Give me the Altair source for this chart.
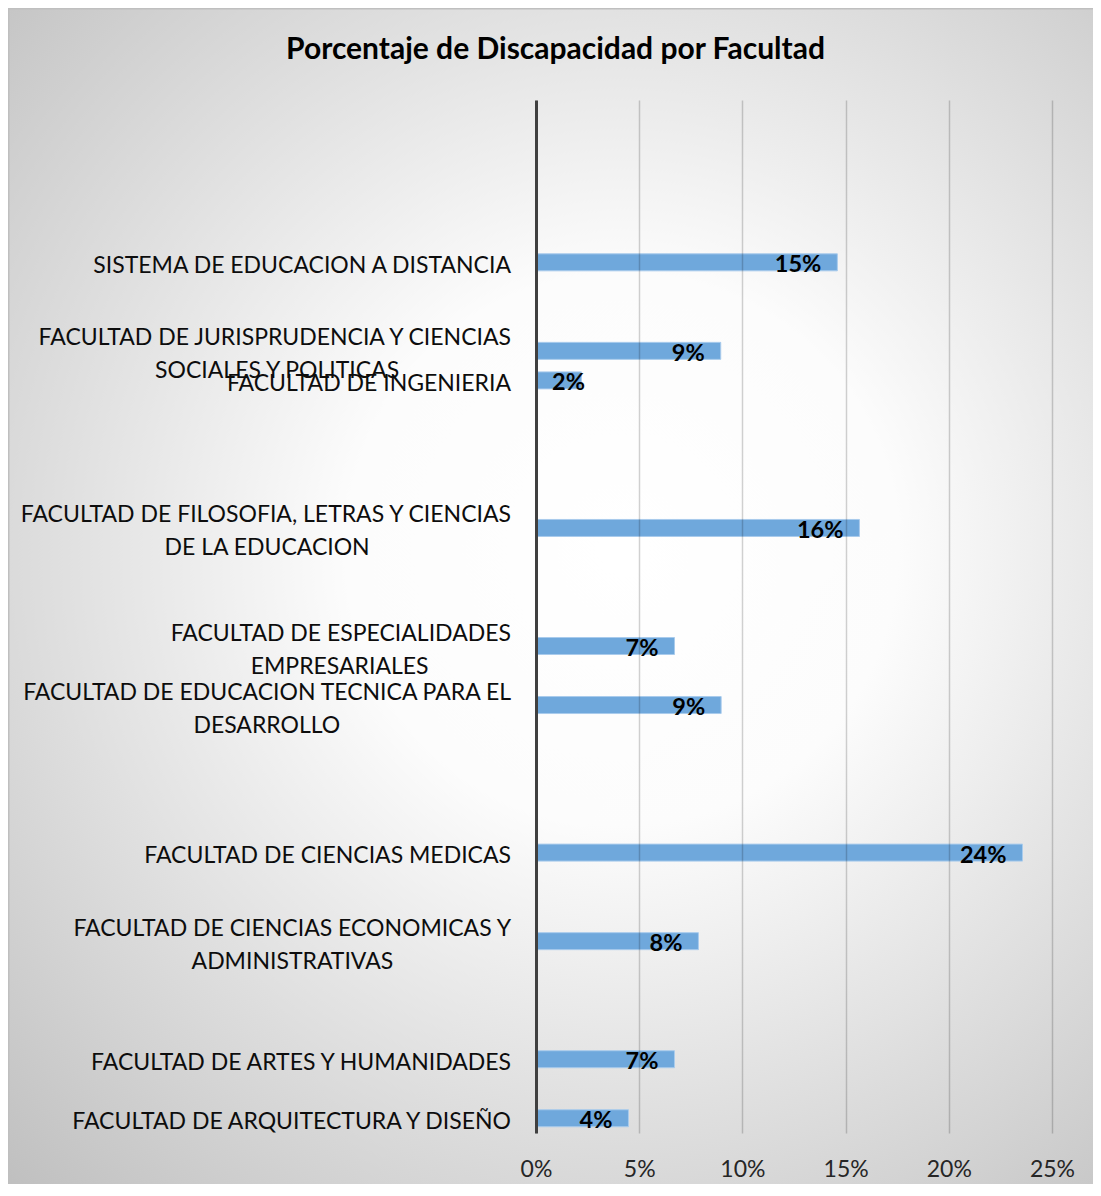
import altair as alt
import pandas as pd

# ---- data -----------------------------------------------------------------
categories = [
    "SISTEMA DE EDUCACION A DISTANCIA",
    "FACULTAD DE JURISPRUDENCIA Y CIENCIAS|SOCIALES Y POLITICAS",
    "FACULTAD DE INGENIERIA",
    "FACULTAD DE FILOSOFIA, LETRAS Y CIENCIAS|DE LA EDUCACION",
    "FACULTAD DE ESPECIALIDADES|EMPRESARIALES",
    "FACULTAD DE EDUCACION TECNICA PARA EL|DESARROLLO",
    "FACULTAD DE CIENCIAS MEDICAS",
    "FACULTAD DE CIENCIAS ECONOMICAS Y|ADMINISTRATIVAS",
    "FACULTAD DE ARTES Y HUMANIDADES",
    "FACULTAD DE ARQUITECTURA Y DISEÑO",
]
values = [0.146, 0.0895, 0.022, 0.1567, 0.0671, 0.0897, 0.2357, 0.0787, 0.0671, 0.0448]

# category axis as in the source sheet (top to bottom); None = empty category row
axis_rows = [None, None, None, None, None,
             categories[0], None, None,
             categories[1], categories[2], None, None, None, None,
             categories[3], None, None, None,
             categories[4], None,
             categories[5], None, None, None, None,
             categories[6], None, None,
             categories[7], None, None, None,
             categories[8], None,
             categories[9]]

x_ticks = [0, 0.05, 0.10, 0.15, 0.20, 0.25]
title_text = "Porcentaje de Discapacidad por Facultad"

# ---- helpers ----------------------------------------------------------------
FONT = "Lato"
LABEL_SIZE = 23
_w = {"A": .66, "B": .62, "C": .64, "D": .72, "E": .55, "F": .52, "G": .70, "H": .74,
      "I": .27, "J": .38, "K": .63, "L": .50, "M": .86, "N": .74, "O": .77, "P": .59,
      "Q": .77, "R": .62, "S": .53, "T": .57, "U": .71, "V": .66, "W": .98, "X": .63,
      "Y": .60, "Z": .59, "Ñ": .74, " ": .20, ",": .20}
NBSP_W = .25


def text_w(s):
    return sum(_w.get(c, .6) for c in s)


def label_for(name):
    # centre the second line under the first one (as the source chart does):
    # pad it on the right with no-break spaces, closed by a word joiner so that
    # the padding is not trimmed away.
    if "|" not in name:
        return name
    l1, l2 = name.split("|")
    pad = int(round((text_w(l1) - text_w(l2)) / 2 / NBSP_W))
    return l1 + "|" + l2 + "\u00a0" * pad + "\u2060"


domain = []
k = 0
for r in axis_rows:
    if r is None:
        domain.append(f"_empty{k}")
        k += 1
    else:
        domain.append(r)

df = pd.DataFrame({"cat": categories, "val": values})
df["lbl"] = [label_for(c) for c in categories]
df["two"] = ["|" in c for c in categories]

W, H = 516, 1033
PAD = {"left": 528, "top": 92, "right": 41, "bottom": 51}

y_scale = alt.Scale(domain=domain, paddingInner=0, paddingOuter=0)
y_enc = alt.Y("cat:N", sort=domain, scale=y_scale,
              axis=alt.Axis(title=None, ticks=False, labels=False,
                            domainColor="#404040", domainWidth=3, grid=False, zindex=1))
x_enc = alt.X("val:Q",
              scale=alt.Scale(domain=[0, 0.25], nice=False),
              axis=alt.Axis(title=None, values=x_ticks, format=".0%", ticks=False, domain=False,
                            labelFont=FONT, labelFontSize=LABEL_SIZE, labelColor="#262626",
                            labelPadding=25, labelFlush=False, grid=True,
                            gridColor="#000000", gridOpacity=0.18, gridWidth=1.5, zindex=1))

bg = alt.Chart(pd.DataFrame({"a": [0]})).mark_rect(
    stroke="#bfbfbf", strokeWidth=1.5,
    color=alt.Gradient(gradient="radial", x1=0.56, y1=0.46, r1=0.0, x2=0.56, y2=0.46, r2=0.78,
                       stops=[alt.GradientStop(offset=0, color="#ffffff"),
                              alt.GradientStop(offset=0.3, color="#fcfcfc"),
                              alt.GradientStop(offset=1, color="#bcbcbc")])
).encode(x=alt.value(-PAD["left"] + 0.75), x2=alt.value(W + PAD["right"] + 2),
         y=alt.value(-PAD["top"] + 0.75), y2=alt.value(H + PAD["bottom"] + 2))

title = alt.Chart(pd.DataFrame({"t": [title_text]})).mark_text(
    align="center", baseline="alphabetic", font=FONT, fontSize=30, fontWeight="bold",
    color="#000000").encode(x=alt.value(556 - 536.5), y=alt.value(59 - 100), text="t:N")

base = alt.Chart(df)
bars = base.mark_bar(size=17, color="#6fa8dc", stroke="#a9cbec", strokeWidth=1).encode(
    x=x_enc, y=y_enc)

y_plain = alt.Y("cat:N", sort=domain, scale=y_scale)

cat_one = base.transform_filter("!datum.two").mark_text(
    align="right", baseline="middle", dx=-25, dy=3.5, font=FONT, fontSize=LABEL_SIZE,
    color="#0d0d0d").encode(x=alt.value(0), y=y_plain, text="lbl:N")
cat_two = base.transform_filter("datum.two").mark_text(
    align="right", baseline="middle", dx=-25, dy=-12.5, lineBreak="|", lineHeight=33,
    font=FONT, fontSize=LABEL_SIZE, color="#0d0d0d").encode(
    x=alt.value(0), y=y_plain, text="lbl:N")

txt_in = base.transform_filter("datum.val >= 0.03").mark_text(
    align="right", baseline="middle", dx=-16, dy=3, font=FONT, fontSize=23.5,
    fontWeight="bold", color="#000000").encode(
    x="val:Q", y=y_plain, text=alt.Text("val:Q", format=".0%"))
txt_small = base.transform_filter("datum.val < 0.03").mark_text(
    align="left", baseline="middle", dx=16, dy=3, font=FONT, fontSize=23.5,
    fontWeight="bold", color="#000000").encode(
    x=alt.value(0), y=y_plain, text=alt.Text("val:Q", format=".0%"))

chart = alt.layer(bg, title, bars, cat_one, cat_two, txt_in, txt_small).properties(
    width=W, height=H,
    autosize=alt.AutoSizeParams(type="none"),
    padding=PAD,
    background="#ffffff",
).configure_view(stroke=None)

chart.save("out.html", embed_options={"renderer": "svg", "actions": False})
